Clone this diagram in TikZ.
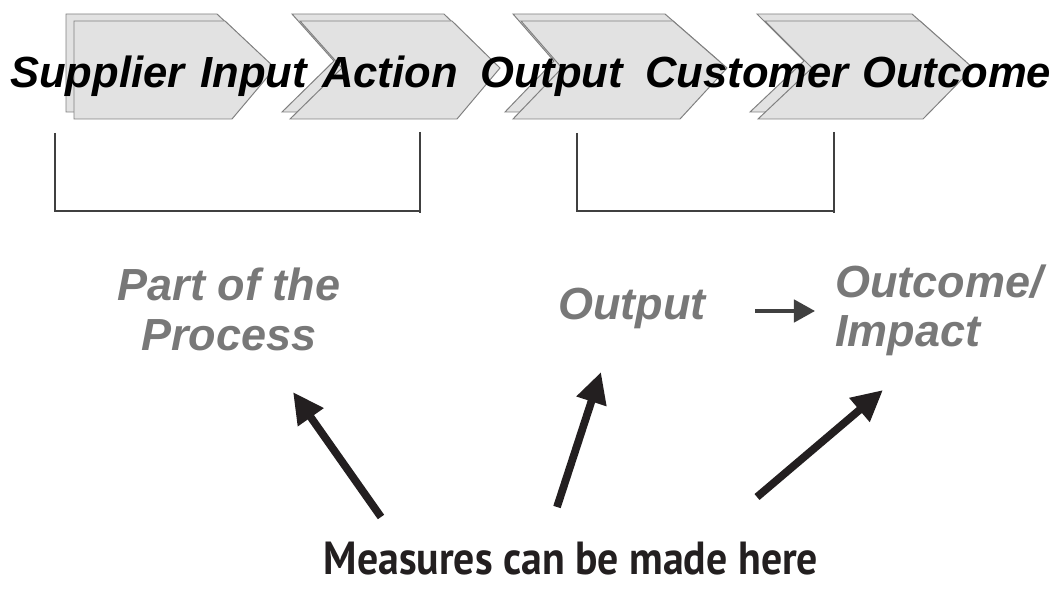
\documentclass[tikz,border=0pt]{standalone}
\usepackage{xcolor}
\usepackage{fontspec}
\setmainfont{Liberation Sans}
\newfontfamily\measuresfont[FakeStretch=0.9]{PT Sans}
\usepackage{tikz}
\usetikzlibrary{arrows.meta}
\tikzset{>=Latex}
\definecolor{chevronfill}{RGB}{226,226,226}
\definecolor{chevronline}{RGB}{128,128,128}
\definecolor{labelgrey}{RGB}{120,120,120}
\definecolor{arrowblack}{RGB}{35,31,32}
\definecolor{smallarrowgrey}{RGB}{64,64,64}

\begin{document}
\begin{tikzpicture}[x=0.025cm, y=-0.025cm,
chevronface/.style={draw=chevronline, fill=chevronfill, line width=0.7pt},
stepword/.style={anchor=base west, inner sep=0pt, font=\fontsize{31}{36}\selectfont\bfseries\itshape},
greylabel/.style={inner sep=0pt, text=labelgrey, font=\fontsize{32}{35.5}\selectfont\bfseries\itshape},
bracketline/.style={draw=black!75, line width=1.1pt},
measurearrow/.style={draw=arrowblack, line width=5.5pt, -{Triangle[length=22pt, width=21pt]}},
smallarrow/.style={draw=smallarrowgrey, line width=2.4pt, -{Triangle[length=15pt, width=16pt]}},
]
\useasboundingbox (0,0) rectangle (1061,597);

%Chevrons
\foreach \l/\n/\bl/\r/\t/\br in {74/74/74/225/275/232, 300/342/290/452/500/457, 521/562/513/673/727/680, 765/812/758/920/973/923}{
  \draw[chevronface, shift={(-8,-7)}] (\l,21) -- (\r,21) -- (\t,68) -- (\br,119) -- (\bl,119) -- (\n,68) -- cycle;
  \draw[chevronface] (\l,21) -- (\r,21) -- (\t,68) -- (\br,119) -- (\bl,119) -- (\n,68) -- cycle;
}

%Nodes
\foreach \w/\x in {Supplier/10, Input/200, Action/322, Output/480, Customer/645, Outcome/862}
  \node[stepword] (\w) at (\x,88) {\w};

\node[greylabel, align=center, anchor=base] (PartProcess) at (229,350) {Part of the\\Process};
\node[greylabel, anchor=base west] (OutputLabel) at (558,320) {Output};
\node[greylabel, align=left, anchor=base west] (OutcomeImpact) at (835,347) {Outcome/\\Impact};
\node[font=\measuresfont\fontsize{33}{40}\selectfont\bfseries, text=arrowblack, inner sep=0pt, anchor=base] (Measures) at (571,574) {Measures can be made here};

\coordinate (SmallTail) at (755,311);
\coordinate (SmallHead) at (815,311);
\coordinate (TailA) at (381,517);
\coordinate (TipA) at (293,392);
\coordinate (TailB) at (557,507);
\coordinate (TipB) at (601,372);
\coordinate (TailC) at (757,497);
\coordinate (TipC) at (883,390);

%Lines
\draw[bracketline] (55,133) -- (55,211) -- (420,211);
\draw[bracketline] (420,132) -- (420,213);
\draw[bracketline] (577,133) -- (577,211) -- (834,211);
\draw[bracketline] (834,132) -- (834,213);
\draw[smallarrow] (SmallTail) -- (SmallHead);
\draw[measurearrow] (TailA) -- (TipA);
\draw[measurearrow] (TailB) -- (TipB);
\draw[measurearrow] (TailC) -- (TipC);
\end{tikzpicture}
\end{document}
